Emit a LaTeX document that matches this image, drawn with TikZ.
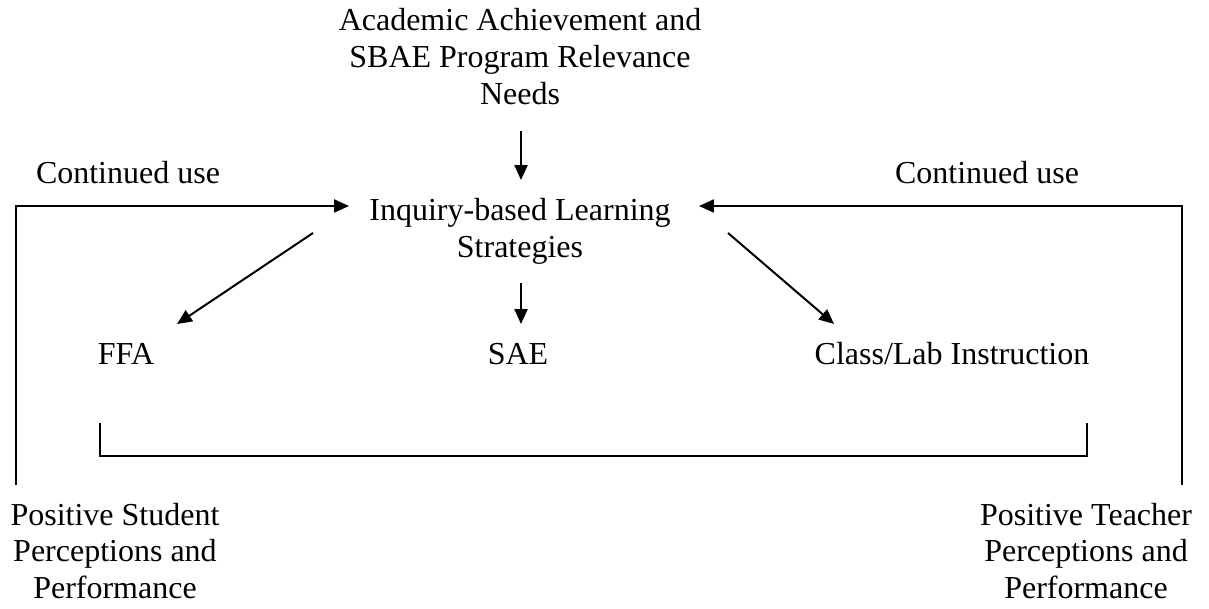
\documentclass[tikz,border=0pt]{standalone}
\usepackage{fontspec}
\setmainfont{Liberation Serif}
\usetikzlibrary{arrows.meta}
\newcommand{\mlines}[1]{\begin{tabular}[t]{@{}c@{}}#1\end{tabular}}
\tikzset{
  lbl/.style={anchor=base, inner sep=0pt, outer sep=0pt, font=\fontsize{12}{13.7}\selectfont},
  conn/.style={line width=0.75pt, -{Triangle[length=5.6pt,width=4.9pt]}},
  plain/.style={line width=0.75pt}
}
\begin{document}
\begin{tikzpicture}[x=0.375pt,y=-0.375pt]
\useasboundingbox (0,0) rectangle (1209,609);
% text nodes
\node[lbl] (acad) at (520,31) {\mlines{Academic Achievement and\\SBAE Program Relevance\\Needs}};
\node[lbl] (inq) at (520,221) {\mlines{Inquiry-based Learning\\Strategies}};
\node[lbl] (cul) at (128,184) {Continued use};
\node[lbl] (cur) at (987,184) {Continued use};
\node[lbl] (ffa) at (126,364) {FFA};
\node[lbl] (sae) at (518,364) {SAE};
\node[lbl] (cls) at (952,364) {Class/Lab Instruction};
\node[lbl] (ps) at (115,525) {\mlines{Positive Student\\Perceptions and\\Performance}};
\node[lbl] (pt) at (1086,525) {\mlines{Positive Teacher\\Perceptions and\\Performance}};
% connector end points
\coordinate (acadout) at (521,131);
\coordinate (inqtop) at (521,180);
\coordinate (inqleft) at (349,206);
\coordinate (inqright) at (699,206);
\coordinate (inqsw) at (313,233);
\coordinate (inqse) at (728,233);
\coordinate (inqs) at (521,283);
\coordinate (ffain) at (177,324);
\coordinate (saein) at (521,324);
\coordinate (clsin) at (834,324);
\coordinate (psout) at (15.5,485);
\coordinate (ptout) at (1182,485);
\coordinate (brl) at (100,423);
\coordinate (brr) at (1087,423);
% connectors
\draw[conn] (acadout) -- (inqtop);
\draw[conn] (inqsw) -- (ffain);
\draw[conn] (inqs) -- (saein);
\draw[conn] (inqse) -- (clsin);
\draw[conn] (psout) |- (inqleft);
\draw[conn] (ptout) |- (inqright);
\draw[plain] (brl) -- (100,456) -- (1087,456) -- (brr);
\end{tikzpicture}
\end{document}
